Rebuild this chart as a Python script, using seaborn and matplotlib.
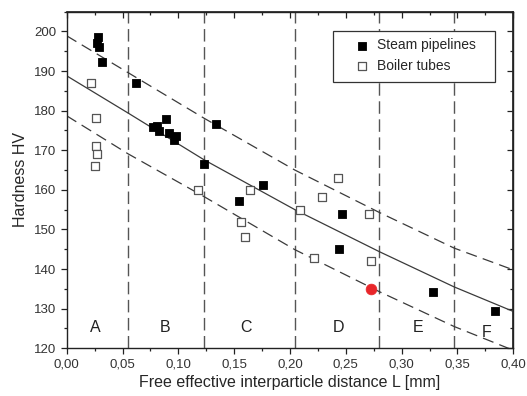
"""
Hardness HV vs. free effective interparticle distance, with fit and bands.
"""
import matplotlib
matplotlib.use("Agg")
import matplotlib.patches as patches
import matplotlib.pyplot as plt
import matplotlib.ticker as ticker
import pandas as pd
import seaborn as sns

# steam pipelines (filled squares)
steam_L = [0.0283, 0.0269, 0.0292, 0.0313, 0.0620, 0.0886, 0.0775, 0.0806,
           0.0824, 0.0916, 0.0981, 0.0963, 0.1339, 0.1232, 0.1755, 0.1543,
           0.2467, 0.2440, 0.3279, 0.3837]
steam_hv = [198.5, 197.2, 196.0, 192.2, 187.0, 178.0, 176.0, 176.2,
            174.9, 174.3, 173.7, 172.7, 176.7, 166.6, 161.3, 157.3,
            153.9, 145.1, 134.3, 129.4]

# boiler tubes (open squares)
boiler_L = [0.0218, 0.0262, 0.0262, 0.0271, 0.0251, 0.1173, 0.1641, 0.1560,
            0.1596, 0.2089, 0.2426, 0.2286, 0.2704, 0.2217, 0.2724]
boiler_hv = [187.0, 178.2, 171.1, 169.1, 166.0, 160.0, 160.0, 152.0,
             148.1, 155.0, 163.0, 158.2, 154.0, 142.9, 142.0]

# highlighted sample
red_L = [0.2724]
red_hv = [135.0]

fit_L = [0.0, 0.055, 0.123, 0.2044, 0.28, 0.347, 0.40]
fit_mid = [188.8, 179.4, 167.6, 155.0, 144.4, 135.5, 129.3]
fit_upper = [198.9, 189.6, 178.1, 165.0, 154.3, 145.3, 139.8]
fit_lower = [178.7, 169.1, 158.3, 144.9, 134.3, 125.5, 119.5]

# zone boundaries and labels
zone_edges = [0.055, 0.123, 0.2044, 0.28, 0.347]
zone_names = ["A", "B", "C", "D", "E", "F"]
zone_L = [0.026, 0.088, 0.161, 0.243, 0.315, 0.376]
zone_hv = [125.2, 125.2, 125.2, 125.2, 125.2, 123.9]

sns.set_theme(style="ticks")
plt.rcParams['font.family'] = ['Liberation Sans', 'DejaVu Sans']

fig = plt.figure(figsize=(5.27, 3.96), dpi=100)
ax = fig.add_axes([0.1266, 0.1205, 0.8474, 0.8500])

line_col = "#3a3a3a"
for x in zone_edges:
    ax.axvline(x, color="#555555", lw=1.0, dashes=(9, 4), zorder=1)

fit_df = pd.DataFrame({"L": fit_L, "mid": fit_mid,
                       "upper": fit_upper, "lower": fit_lower})
sns.lineplot(data=fit_df, x="L", y="mid", ax=ax, color=line_col, lw=0.9,
             zorder=2)
for col in ["upper", "lower"]:
    sns.lineplot(data=fit_df, x="L", y=col, ax=ax, color=line_col, lw=0.9,
                 zorder=2).lines[-1].set_dashes((9, 5))

sns.scatterplot(x=steam_L, y=steam_hv, ax=ax, marker="s", s=28,
                color="black", edgecolor="black", linewidth=0.6,
                label="Steam pipelines", zorder=4)
sns.scatterplot(x=boiler_L, y=boiler_hv, ax=ax, marker="s", s=28,
                facecolor="white", edgecolor="#555555", linewidth=0.9,
                label="Boiler tubes", zorder=4)
sns.scatterplot(x=red_L, y=red_hv, ax=ax, marker="o", s=60,
                color="#e8262a", edgecolor="#e8262a", linewidth=0.5,
                zorder=5)

for name, x, y in zip(zone_names, zone_L, zone_hv):
    ax.text(x, y, name, ha="center", va="center", fontsize=11.5,
            color="#222222")

ax.set_xlim(0, 0.40)
ax.set_ylim(120, 205)
ax.xaxis.set_major_locator(ticker.MultipleLocator(0.05))
ax.xaxis.set_minor_locator(ticker.MultipleLocator(0.025))
ax.yaxis.set_major_locator(ticker.MultipleLocator(10))
ax.yaxis.set_minor_locator(ticker.MultipleLocator(5))
ax.xaxis.set_major_formatter(
    ticker.FuncFormatter(lambda v, p: f"{v:.2f}".replace(".", ",")))
ax.yaxis.set_major_formatter(ticker.FuncFormatter(lambda v, p: f"{v:.0f}"))
ax.tick_params(which="both", direction="out", colors="#222222",
               labelcolor="#333333", labelsize=9.5, width=0.9)
ax.tick_params(which="major", length=4)
ax.tick_params(which="minor", length=2.5)
for sp in ax.spines.values():
    sp.set_visible(True)
    sp.set_color("#222222")
    sp.set_linewidth(1.0)

# mirrored inward ticks on top and right
top = ax.secondary_xaxis("top")
top.xaxis.set_major_locator(ticker.MultipleLocator(0.05))
top.xaxis.set_minor_locator(ticker.MultipleLocator(0.025))
top.tick_params(which="both", direction="in", labeltop=False,
                colors="#222222", width=0.9)
top.tick_params(which="major", length=4)
top.tick_params(which="minor", length=2.5)
right = ax.secondary_yaxis("right")
right.yaxis.set_major_locator(ticker.MultipleLocator(10))
right.yaxis.set_minor_locator(ticker.MultipleLocator(5))
right.tick_params(which="both", direction="in", labelright=False,
                  colors="#222222", width=0.9)
right.tick_params(which="major", length=4)
right.tick_params(which="minor", length=2.5)

ax.set_xlabel("Free effective interparticle distance L [mm]", fontsize=11.5,
              labelpad=3)
ax.set_ylabel("Hardness HV", fontsize=11.5, labelpad=4)

# legend without its own frame, boxed by a separate rectangle
ax.add_patch(patches.Rectangle((0.596, 0.790), 0.363, 0.153,
                               transform=ax.transAxes, fill=True,
                               facecolor="white", edgecolor="#333333",
                               lw=0.9, zorder=6))
leg = ax.legend(loc="upper left", bbox_to_anchor=(0.645, 0.921),
                borderaxespad=0, borderpad=0, fontsize=10, frameon=False,
                handlelength=1.0, handletextpad=0.58, labelspacing=0.47,
                markerscale=1.0)
leg.set_zorder(7)

fig.savefig("out.png", dpi=100)
